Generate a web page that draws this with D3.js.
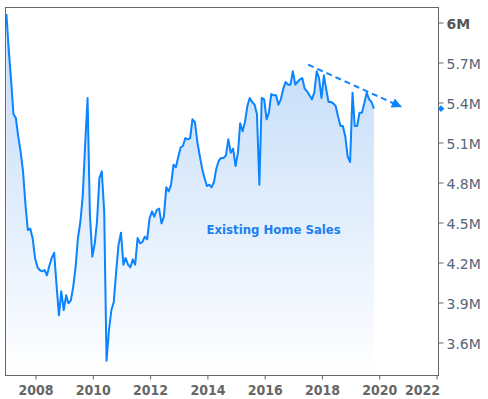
<!DOCTYPE html>
<html>
<head>
<meta charset="utf-8">
<script src="https://cdn.jsdelivr.net/npm/d3@7"></script>
<style>
  body { margin: 0; background: #fff; }
  svg { display: block; }
</style>
</head>
<body>
<svg id="home-sales-chart"></svg>
<script>
// Existing home sales, monthly, millions (SAAR), Jan 2007 .. Nov 2019
const startYear = 2007;
const sales = [
    6.06, 5.78, 5.57, 5.31, 5.28, 5.14, 5.03, 4.88, 4.63, 4.44, 4.45, 4.38,
    4.23, 4.16, 4.14, 4.13, 4.14, 4.10, 4.17, 4.23, 4.27, 4.03, 3.80, 3.98,
    3.84, 3.95, 3.89, 3.91, 4.01, 4.16, 4.38, 4.50, 4.70, 5.08, 5.43, 4.55,
    4.24, 4.34, 4.50, 4.83, 4.88, 4.58, 3.46, 3.69, 3.84, 3.90, 4.13, 4.33,
    4.42, 4.18, 4.23, 4.18, 4.16, 4.22, 4.18, 4.38, 4.34, 4.35, 4.39, 4.37,
    4.53, 4.58, 4.54, 4.59, 4.60, 4.49, 4.54, 4.76, 4.73, 4.78, 4.93, 4.91,
    4.99, 5.06, 5.07, 5.13, 5.12, 5.13, 5.27, 5.25, 5.10, 5.00, 4.90, 4.83,
    4.77, 4.78, 4.76, 4.80, 4.90, 4.96, 4.98, 4.98, 5.00, 5.12, 5.02, 5.05,
    4.92, 5.02, 5.24, 5.18, 5.25, 5.37, 5.43, 5.40, 5.38, 5.31, 4.78, 5.43,
    5.42, 5.27, 5.32, 5.46, 5.45, 5.45, 5.38, 5.42, 5.50, 5.55, 5.53, 5.53,
    5.63, 5.53, 5.55, 5.57, 5.58, 5.50, 5.48, 5.45, 5.42, 5.47, 5.63, 5.58,
    5.43, 5.60, 5.50, 5.40, 5.40, 5.39, 5.37, 5.29, 5.22, 5.22, 5.14, 4.99,
    4.95, 5.47, 5.22, 5.22, 5.32, 5.32, 5.39, 5.47, 5.42, 5.40, 5.35
];

// Axis ticks
const yTicks = [3.6, 3.9, 4.2, 4.5, 4.8, 5.1, 5.4, 5.7, 6.0];
const xTickYears = [2008, 2010, 2012, 2014, 2016, 2018, 2020, 2022];

// Trend arrow (date, value) and series label
const trendDates = [new Date(2017, 6, 15), new Date(2020, 9, 10)];
const trendValues = [5.68, 5.365];
const seriesLabel = "Existing Home Sales";
const labelDate = new Date(2016, 4, 1);
const labelValue = 4.41;

const data = sales.map((v, i) => ({ date: new Date(startYear, i, 1), value: v }));

// Set up SVG dimensions
const width = 488, height = 399;
const plot = { left: 5, top: 7, right: 438, bottom: 375 };

const svg = d3.select("#home-sales-chart")
    .attr("width", width)
    .attr("height", height);

// Scales
const x = d3.scaleTime()
    .domain([new Date(2006, 11, 14), new Date(2022, 0, 26)])
    .range([plot.left, plot.right]);

const y = d3.scaleLinear()
    .domain([3.3525, 6.1125])
    .range([plot.bottom, plot.top]);

// Gradient for the area
const defs = svg.append("defs");
const grad = defs.append("linearGradient")
    .attr("id", "area-grad")
    .attr("gradientUnits", "userSpaceOnUse")
    .attr("x1", 0).attr("x2", 0)
    .attr("y1", plot.top).attr("y2", plot.bottom);
grad.append("stop").attr("offset", 0).attr("stop-color", "#bdd8f8");
grad.append("stop").attr("offset", 1).attr("stop-color", "#ffffff");

defs.append("marker")
    .attr("id", "arrow")
    .attr("viewBox", "0 0 10 10")
    .attr("refX", 9).attr("refY", 5)
    .attr("markerWidth", 5.5).attr("markerHeight", 5)
    .attr("markerUnits", "strokeWidth")
    .attr("orient", "auto")
    .append("path")
    .attr("d", "M0,0 L10,5 L0,10 Z")
    .attr("fill", "#0a84ff");

// Area + line
const area = d3.area()
    .x(d => x(d.date))
    .y0(plot.bottom)
    .y1(d => y(d.value));

const line = d3.line()
    .x(d => x(d.date))
    .y(d => y(d.value));

svg.append("path")
    .datum(data)
    .attr("d", area)
    .attr("fill", "url(#area-grad)");

svg.append("path")
    .datum(data)
    .attr("d", line)
    .attr("fill", "none")
    .attr("stroke", "#0a84ff")
    .attr("stroke-width", 2)
    .attr("stroke-linejoin", "round");

// Trend arrow
svg.append("line")
    .attr("x1", x(trendDates[0])).attr("y1", y(trendValues[0]))
    .attr("x2", x(trendDates[1])).attr("y2", y(trendValues[1]))
    .attr("stroke", "#0a84ff")
    .attr("stroke-width", 2)
    .attr("stroke-dasharray", "6,4")
    .attr("marker-end", "url(#arrow)");

// Series label
svg.append("text")
    .attr("x", x(labelDate))
    .attr("y", y(labelValue))
    .attr("text-anchor", "middle")
    .style("font-family", "'DejaVu Sans Condensed', 'Liberation Sans Narrow', 'DejaVu Sans', sans-serif")
    .style("font-weight", "bold")
    .style("font-size", "13px")
    .style("fill", "#1a80f0")
    .text(seriesLabel);

// Frame
svg.append("rect")
    .attr("x", plot.left + 0.5)
    .attr("y", plot.top + 0.5)
    .attr("width", plot.right - plot.left)
    .attr("height", plot.bottom - plot.top)
    .attr("fill", "none")
    .attr("stroke", "#666");

// Y axis (right)
const yAxis = svg.append("g")
    .attr("transform", "translate(" + (plot.right + 0.5) + ",0.5)")
    .call(d3.axisRight(y)
        .tickValues(yTicks)
        .tickSize(5)
        .tickPadding(3)
        .tickFormat(d => d === 6 ? "6M" : d.toFixed(1) + "M"));
yAxis.select(".domain").remove();
yAxis.selectAll(".tick line").attr("stroke", "#666");
yAxis.selectAll(".tick text")
    .attr("dy", "0.4em")
    .style("font-family", "'DejaVu Sans', Verdana, sans-serif")
    .style("font-size", "14px")
    .style("fill", d => d === 6 ? "#555" : "#56657a")
    .style("font-weight", d => d === 6 ? "bold" : "normal");

// X axis (bottom)
const xAxis = svg.append("g")
    .attr("transform", "translate(0.5," + (plot.bottom + 0.5) + ")")
    .call(d3.axisBottom(x)
        .tickValues(xTickYears.map(yr => new Date(yr, 0, 1)))
        .tickSize(4)
        .tickPadding(6)
        .tickFormat(d3.timeFormat("%Y")));
xAxis.select(".domain").remove();
xAxis.selectAll(".tick line").attr("stroke", "#666");
xAxis.selectAll(".tick text")
    .style("font-family", "'DejaVu Sans Condensed', 'Liberation Sans Narrow', 'DejaVu Sans', sans-serif")
    .style("font-weight", "bold")
    .style("font-size", "14px")
    .style("fill", "#666");
// Keep the last year label inside the frame
xAxis.selectAll(".tick text")
    .filter(d => x(d) + 18 > plot.right)
    .attr("text-anchor", "end")
    .attr("x", plot.right - x(new Date(2022, 0, 1)) + 1);

// Last value marker on the axis
svg.append("path")
    .attr("d", d3.symbol(d3.symbolSquare, 22))
    .attr("transform", "translate(" + (plot.right + 3) + "," + y(sales[sales.length - 1]) + ") rotate(45)")
    .attr("fill", "#0a84ff");
</script>
</body>
</html>
